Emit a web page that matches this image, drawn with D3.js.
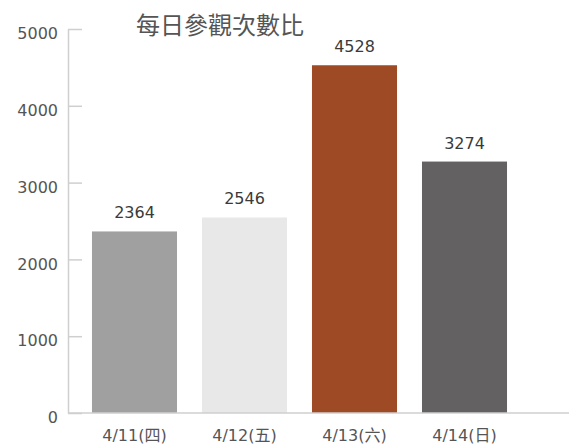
<!DOCTYPE html>
<html>
<head>
<meta charset="utf-8">
<script src="https://cdn.jsdelivr.net/npm/d3@7"></script>
<style>
  body { margin: 0; background: #fff; }
  text { font-family: "DejaVu Sans", "Noto Sans CJK TC", sans-serif; }
</style>
</head>
<body>
<svg id="chart"></svg>
<script>
// Data
const days = ["4/11(四)", "4/12(五)", "4/13(六)", "4/14(日)"];
const visits = [2364, 2546, 4528, 3274];
const barColors = ["#a0a0a0", "#e8e8e8", "#9e4a25", "#636161"];
const yTicks = [0, 1000, 2000, 3000, 4000, 5000];
const title = "每日參觀次數比";

// Set up dimensions
const W = 569, H = 445;
const margin = {left: 68, top: 29, bottom: 413};

const svg = d3.select("#chart")
  .attr("width", W)
  .attr("height", H);

// Scales
const x = d3.scaleBand()
  .domain(days)
  .range([margin.left, 531])
  .paddingInner(0.227)
  .paddingOuter(0.218);

const y = d3.scaleLinear()
  .domain([0, 5000])
  .range([margin.bottom, margin.top]);

// Y axis (ticks point into the plot)
const yAxis = svg.append("g")
  .attr("transform", `translate(${margin.left},0)`)
  .call(d3.axisRight(y).tickValues(yTicks).tickSize(14).tickSizeOuter(0).tickFormat(d3.format("d")));

yAxis.select(".domain").attr("stroke", "#cfcfcf").attr("stroke-width", 1.5);
yAxis.selectAll(".tick line").attr("stroke", "#cfcfcf").attr("stroke-width", 1.5);
yAxis.selectAll(".tick text")
  .attr("x", -10)
  .attr("dy", "0.6em")
  .attr("text-anchor", "end")
  .attr("fill", "#555")
  .style("font-size", "16px");

// Bars
svg.selectAll(".bar")
  .data(visits)
  .enter()
  .append("rect")
  .attr("class", "bar")
  .attr("x", (d, i) => x(days[i]))
  .attr("y", d => y(d))
  .attr("width", x.bandwidth())
  .attr("height", d => y(0) - y(d))
  .attr("fill", (d, i) => barColors[i]);

// Value labels
svg.selectAll(".label")
  .data(visits)
  .enter()
  .append("text")
  .attr("class", "label")
  .attr("x", (d, i) => x(days[i]) + x.bandwidth() / 2)
  .attr("y", d => y(d) - 13)
  .attr("text-anchor", "middle")
  .attr("fill", "#3a3a3a")
  .style("font-size", "16px")
  .text(d => d);

// X axis baseline runs to the right edge
svg.append("line")
  .attr("x1", margin.left)
  .attr("x2", W)
  .attr("y1", y(0))
  .attr("y2", y(0))
  .attr("stroke", "#cfcfcf")
  .attr("stroke-width", 1.5);

const xAxis = svg.append("g")
  .attr("transform", `translate(0,${y(0)})`)
  .call(d3.axisBottom(x).tickSize(0));

xAxis.select(".domain").remove();
xAxis.selectAll(".tick text")
  .attr("y", 17)
  .attr("fill", "#555")
  .style("font-size", "16px");

// Title
svg.append("text")
  .attr("x", 220)
  .attr("y", 34)
  .attr("text-anchor", "middle")
  .attr("fill", "#555")
  .style("font-family", "'Noto Sans CJK TC', sans-serif")
  .style("font-size", "24px")
  .style("font-weight", 400)
  .text(title);
</script>
</body>
</html>
